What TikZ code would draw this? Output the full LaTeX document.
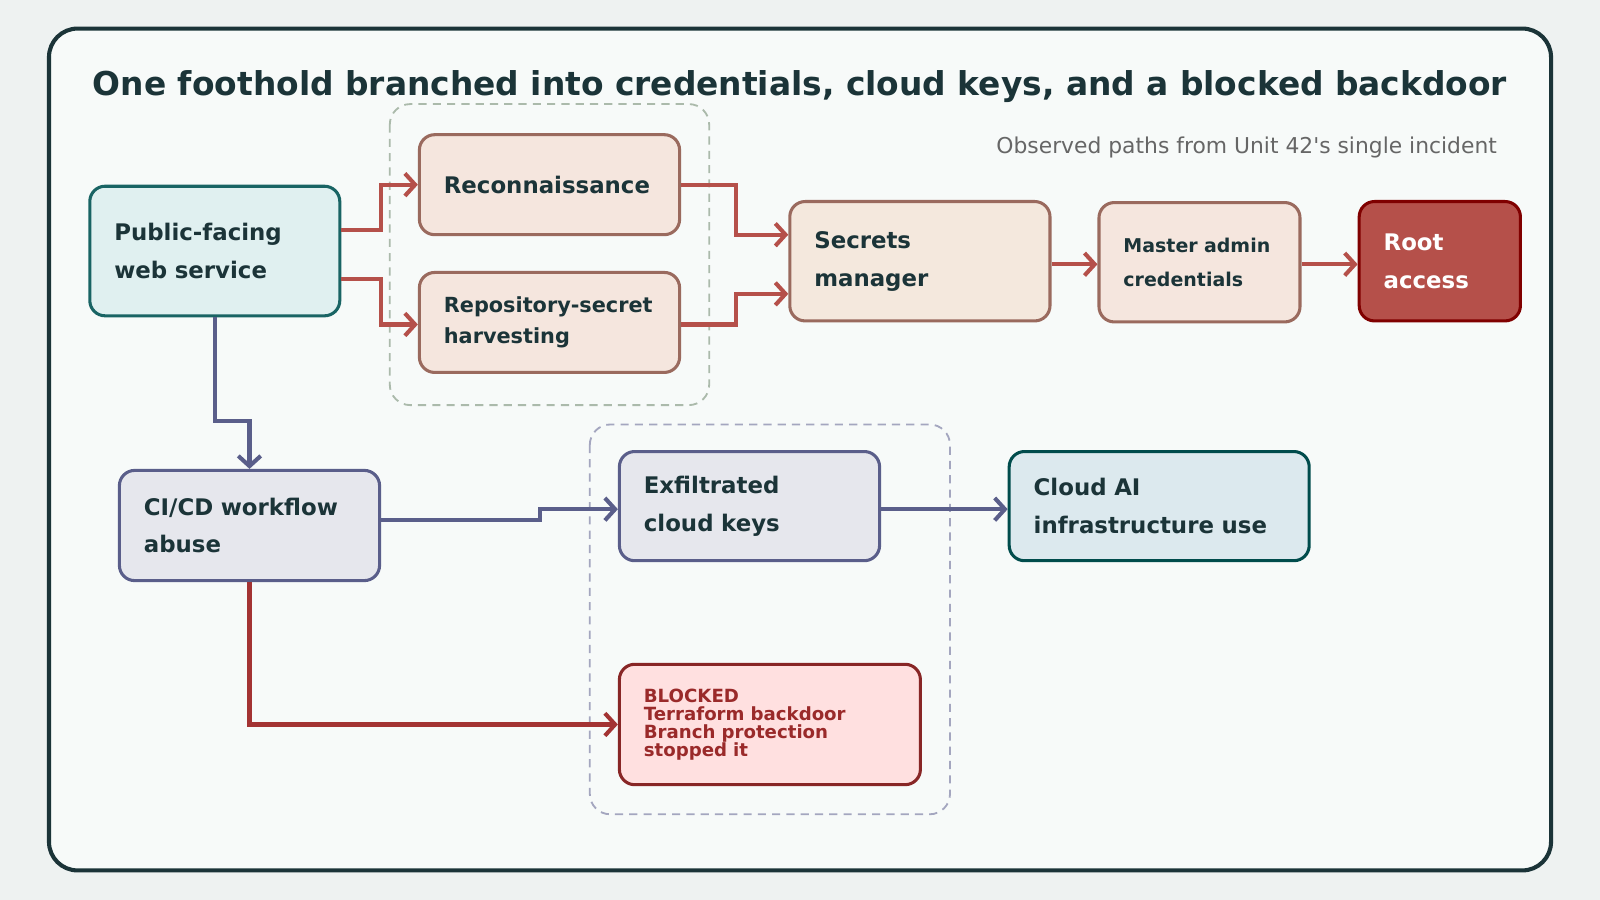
\documentclass[tikz,border=0pt]{standalone}
\usepackage{fontspec}
\setmainfont{DejaVu Sans}
\usetikzlibrary{arrows.meta,calc}
\definecolor{bgout}{HTML}{EEF2F1}
\definecolor{bgin}{HTML}{F7FAF9}
\definecolor{ink}{HTML}{1B3438}
\definecolor{redln}{HTML}{B5504A}
\definecolor{purln}{HTML}{5A5E8A}
\definecolor{warmfill}{HTML}{F5E6DE}
\definecolor{warmdraw}{HTML}{9A6A5E}
\definecolor{blocktxt}{HTML}{9A2A2A}
\tikzset{
  box/.style={rounded corners=7.5pt,line width=1.5pt,align=left,inner xsep=12pt,
    font=\bfseries\fontsize{11.2}{18.5}\selectfont,text=ink,anchor=center},
  warm/.style={box,fill=#1,draw=warmdraw},
  cool/.style={box,fill=#1,draw=purln},
  redarr/.style={draw=redln,line width=2pt,->},
  purarr/.style={draw=purln,line width=2pt,->},
  grp/.style={rounded corners=10pt,dashed,line width=0.9pt,dash pattern=on 4pt off 3pt},
}
\begin{document}
\begin{tikzpicture}[x=0.5pt,y=-0.5pt,>={Straight Barb[length=5pt,width=11pt]}]
  \fill[bgout] (0,0) rectangle (1568,882);
  \useasboundingbox (0,0) rectangle (1568,882);
  \draw[ink,fill=bgin,line width=2pt,rounded corners=14pt] (48,28) rectangle (1520,853);

  \node[font=\bfseries\fontsize{16.1}{18}\selectfont,text=ink] (title) at (784,85)
    {One foothold branched into credentials, cloud keys, and a blocked backdoor};
  \node[font=\fontsize{10.7}{12}\selectfont,text=gray!80!black,anchor=east] (sub) at (1474,145)
    {Observed paths from Unit 42\textquotesingle s single incident};

  % groups
  \draw[grp,draw=green!10!gray!60] (382,102) rectangle (695,397);
  \draw[grp,draw=purln!55] (578,416) rectangle (931,798);

  % nodes
  \node[box,fill=teal!12,draw=teal!65!black!90,minimum width=122.5pt,minimum height=63.5pt,text width=98.5pt] (web) at (210.5,246) {Public-facing\\web service};
  \node[warm=warmfill,minimum width=127.5pt,minimum height=49pt,text width=103.5pt] (recon) at (538.5,181) {Reconnaissance};
  \node[warm=warmfill,minimum width=127.5pt,minimum height=49pt,text width=103.5pt,font=\bfseries\fontsize{10.2}{15}\selectfont] (repo) at (538.5,316) {Repository-secret\\harvesting};
  \node[warm=brown!18,minimum width=127.5pt,minimum height=58.5pt,text width=103.5pt] (secrets) at (901.5,256) {Secrets\\manager};
  \node[warm=warmfill,minimum width=98.5pt,minimum height=58.5pt,text width=74.5pt,font=\bfseries\fontsize{9.3}{16.5}\selectfont] (master) at (1175.5,257) {Master admin\\credentials};
  \node[box,fill=redln,draw=red!50!black,text=white,minimum width=79pt,minimum height=58.5pt,text width=55pt] (root) at (1411,256) {Root\\access};
  \node[cool=purln!15,minimum width=127.5pt,minimum height=54pt,text width=103.5pt] (cicd) at (244.5,515) {CI/CD workflow\\abuse};
  \node[cool=purln!15,minimum width=127.5pt,minimum height=53.5pt,text width=103.5pt] (exfil) at (734.5,496) {Exfiltrated\\cloud keys};
  \node[box,fill=cyan!5!teal!15,draw=teal!60!black,minimum width=147pt,minimum height=53.5pt,text width=123pt] (cloud) at (1136,496) {Cloud AI\\infrastructure use};
  \node[box,fill=red!12,draw=red!45!black!85,text=blocktxt,minimum width=147.5pt,minimum height=59pt,text width=123.5pt,font=\bfseries\fontsize{8.9}{8.9}\selectfont] (blocked) at (754.5,710) {BLOCKED\\Terraform backdoor\\Branch protection\\stopped it};

  % connectors
  \draw[redarr] ($(web.east)+(0,-21)$) -- ++(39,0) |- (recon.west);
  \draw[redarr] ($(web.east)+(0,27)$) -- ++(39,0) |- ($(repo.west)+(0,2)$);
  \draw[redarr] (recon.east) -- ++(54,0) |- ($(secrets.west)+(0,-26)$);
  \draw[redarr] ($(repo.east)+(0,2)$) -- ++(54,0) |- ($(secrets.west)+(0,32)$);
  \draw[redarr] ($(secrets.east)+(0,3)$) -- ($(master.west)+(0,2)$);
  \draw[redarr] ($(master.east)+(0,2)$) -- ($(root.west)+(0,3)$);
  \draw[purarr] (web.south) -- ++(0,102) -| (cicd.north);
  \draw[purarr] ($(cicd.east)+(0,-5)$) -- ++(156,0) |- ($(exfil.west)+(0,3)$);
  \draw[purarr] ($(exfil.east)+(0,3)$) -- ($(cloud.west)+(0,3)$);
  \draw[redarr,draw=red!55!black!80] (cicd.south) |- (blocked.west);
\end{tikzpicture}
\end{document}
